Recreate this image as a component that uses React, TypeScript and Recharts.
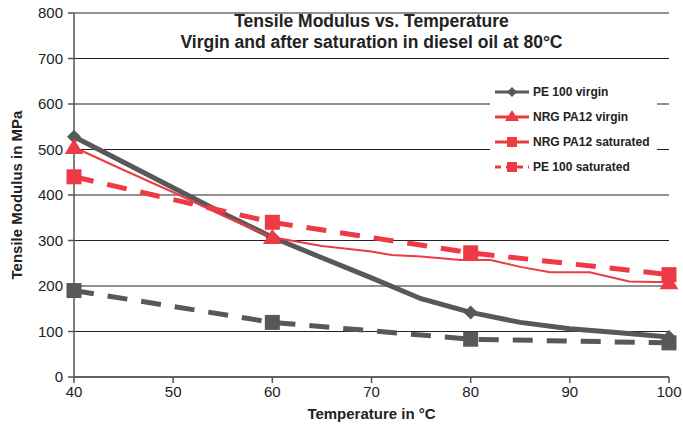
import React from 'react';
import { LineChart, Line, XAxis, YAxis, CartesianGrid } from 'recharts';

const RED = '#ee3a45';
const GRAY = '#58585a';
const FONT = '"Liberation Sans", Arial, Helvetica, sans-serif';

const markerTemps = [40, 60, 80, 100];
const xTicks = [40, 50, 60, 70, 80, 90, 100];
const yTicks = [0, 100, 200, 300, 400, 500, 600, 700, 800];

const peVirginTemps = [40, 45, 50, 55, 60, 65, 70, 75, 80, 85, 90, 95, 100];
const peVirginValues = [528, 472, 416, 360, 307, 262, 218, 172, 142, 120, 106, 97, 88];

const paVirginTemps = [40, 45, 50, 55, 60, 65, 70, 72, 75, 79, 82, 85, 88, 92, 96, 100];
const paVirginValues = [505, 455, 406, 355, 307, 288, 276, 268, 265, 257, 257, 242, 230, 230, 210, 208];

const paSaturatedValues = [440, 340, 273, 225];
const peSaturatedValues = [190, 120, 83, 75];

const toPoints = (xs: number[], ys: number[]) => xs.map((x, i) => ({ t: x, v: ys[i] }));

const peVirgin = toPoints(peVirginTemps, peVirginValues);
const paVirgin = toPoints(paVirginTemps, paVirginValues);
const paSaturated = toPoints(markerTemps, paSaturatedValues);
const peSaturated = toPoints(markerTemps, peSaturatedValues);

type Shape = 'diamond' | 'triangle' | 'square';

function marker(shape: Shape, color: string, size: number) {
  return (props: any) => {
    const { cx, cy, payload, index } = props;
    if (cx == null || cy == null || !markerTemps.includes(payload.t)) {
      return <g key={`d-${index}`} />;
    }
    const h = size / 2;
    if (shape === 'diamond') {
      return <path key={`d-${index}`} d={`M${cx},${cy - h} L${cx + h},${cy} L${cx},${cy + h} L${cx - h},${cy} Z`} fill={color} />;
    }
    if (shape === 'triangle') {
      return <path key={`d-${index}`} d={`M${cx},${cy - h} L${cx + h * 1.1},${cy + h * 0.8} L${cx - h * 1.1},${cy + h * 0.8} Z`} fill={color} />;
    }
    return <rect key={`d-${index}`} x={cx - h} y={cy - h} width={size} height={size} fill={color} />;
  };
}

// legend as drawn in the source (last entry reads "PE 100 saturated" with the red dashed style)
const legendItems = [
  { name: 'PE 100 virgin', color: GRAY, shape: 'diamond' as Shape, dash: false },
  { name: 'NRG PA12 virgin', color: RED, shape: 'triangle' as Shape, dash: false },
  { name: 'NRG PA12 saturated', color: RED, shape: 'square' as Shape, dash: false },
  { name: 'PE 100 saturated', color: RED, shape: 'square' as Shape, dash: true },
];

function LegendBox() {
  return (
    <div style={{ position: 'absolute', left: 490, top: 78, background: '#fff', width: 167, height: 104, paddingTop: 1, boxSizing: 'border-box' }}>
      {legendItems.map((it) => (
        <div key={it.name} style={{ display: 'flex', alignItems: 'center', height: 25 }}>
          <svg width={38} height={16} style={{ marginLeft: 5 }}>
            <line x1={0} x2={34} y1={8} y2={8} stroke={it.color} strokeWidth={3} strokeDasharray={it.dash ? '6 5' : undefined} />
            {it.shape === 'diamond' && <path d="M17,3 L22,8 L17,13 L12,8 Z" fill={it.color} />}
            {it.shape === 'triangle' && <path d="M17,1 L24,12 L10,12 Z" fill={it.color} />}
            {it.shape === 'square' && <rect x={12} y={3} width={10} height={10} fill={it.color} />}
          </svg>
          <span style={{ fontFamily: FONT, fontWeight: 'bold', fontSize: 12, color: '#222' }}>{it.name}</span>
        </div>
      ))}
    </div>
  );
}

export default function App() {
  return (
    <div style={{ position: 'absolute', left: 0, top: 0, width: 683, height: 427, background: '#fff', fontFamily: FONT }}>
      <LineChart width={683} height={427} margin={{ top: 13, right: 14, bottom: 0, left: 0 }}>
        <CartesianGrid vertical={false} stroke="#222" strokeWidth={1} />
        <XAxis
          dataKey="t"
          type="number"
          domain={[40, 100]}
          ticks={xTicks}
          allowDuplicatedCategory={false}
          height={50}
          tickSize={6}
          tickMargin={3}
          stroke="#555"
          strokeWidth={1.5}
          tick={{ fill: '#222', fontSize: 15, fontFamily: FONT }}
          label={{ value: 'Temperature in °C', position: 'insideBottom', offset: 8, fill: '#222', fontSize: 15, fontWeight: 'bold', fontFamily: FONT }}
        />
        <YAxis
          type="number"
          domain={[0, 800]}
          ticks={yTicks}
          width={74}
          tickSize={6}
          tickMargin={5}
          stroke="#555"
          strokeWidth={1.5}
          tick={{ fill: '#222', fontSize: 15, fontFamily: FONT }}
          label={{ value: 'Tensile Modulus in MPa', angle: -90, position: 'insideLeft', offset: 17, fill: '#222', fontSize: 15, fontWeight: 'bold', fontFamily: FONT, style: { textAnchor: 'middle' } }}
        />
        <Line data={peSaturated} dataKey="v" stroke={GRAY} strokeWidth={5} strokeDasharray="20 14" dot={marker('square', GRAY, 15)} isAnimationActive={false} />
        <Line data={peVirgin} dataKey="v" stroke={GRAY} strokeWidth={5} dot={marker('diamond', GRAY, 14)} isAnimationActive={false} />
        <Line data={paSaturated} dataKey="v" stroke={RED} strokeWidth={5} strokeDasharray="20 14" dot={marker('square', RED, 15)} isAnimationActive={false} />
        <Line data={paVirgin} dataKey="v" stroke={RED} strokeWidth={2} dot={marker('triangle', RED, 17)} isAnimationActive={false} />
      </LineChart>
      <LegendBox />
      <div style={{ position: 'absolute', left: 74, width: 595, top: 11, textAlign: 'center', fontWeight: 'bold', fontSize: 17.5, lineHeight: '21px', color: '#222', fontFamily: FONT }}>
        Tensile Modulus vs. Temperature
        <br />
        Virgin and after saturation in diesel oil at 80°C
      </div>
    </div>
  );
}
